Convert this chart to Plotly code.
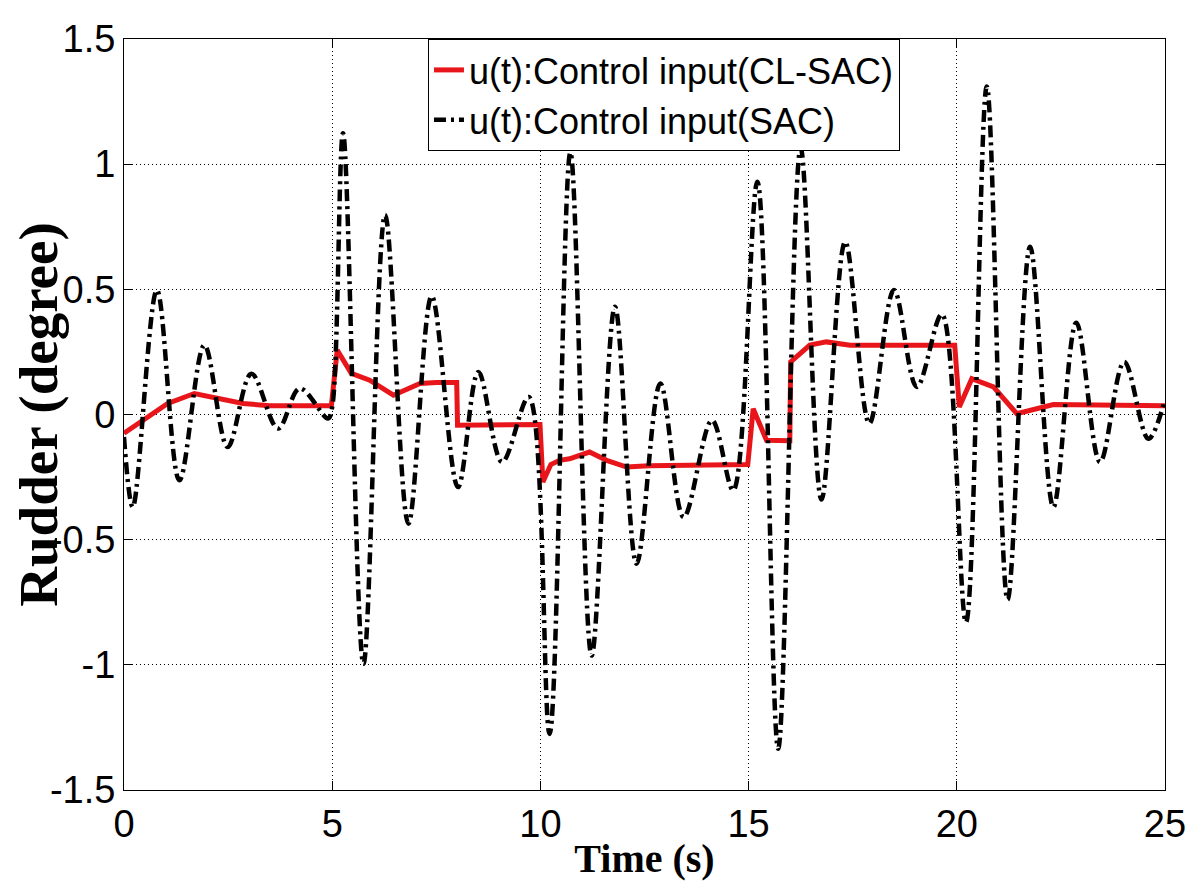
import plotly.graph_objects as go

# SAC control input (black dash-dot): peaks and troughs
t_sac = [0.0, 0.21, 0.79, 1.33, 1.93, 2.49, 3.06, 3.70, 4.22, 4.90, 5.0,
         5.26, 5.75, 6.27, 6.83, 7.39, 8.02, 8.51, 9.08, 9.72,
         10.22, 10.72, 11.23, 11.79, 12.31, 12.88, 13.44, 14.12, 14.63,
         15.21, 15.71, 16.25, 16.75, 17.32, 17.90, 18.49, 19.04, 19.64,
         20.22, 20.72, 21.22, 21.76, 22.32, 22.87, 23.44, 24.02, 24.60, 25.0]
u_sac = [-0.09, -0.37, 0.497, -0.263, 0.277, -0.13, 0.163, -0.056, 0.104, -0.016, 0.03,
         1.124, -0.996, 0.797, -0.436, 0.473, -0.29, 0.17, -0.19, 0.07,
         -1.276, 1.047, -0.963, 0.43, -0.596, 0.124, -0.41, -0.023, -0.303,
         0.93, -1.335, 1.064, -0.34, 0.69, -0.036, 0.497, 0.11, 0.40,
         -0.83, 1.31, -0.74, 0.67, -0.37, 0.367, -0.19, 0.21, -0.097, 0.06]

# CL-SAC control input (red solid)
t_cl = [0.0, 0.5, 1.05, 1.69, 2.3, 2.86, 3.5, 4.98, 5.12, 5.46, 5.9, 6.47, 7.11, 7.5, 7.99,
        8.01, 9.99, 10.06, 10.25, 10.46, 10.7, 11.18, 11.59, 12.07, 12.6, 14.98,
        15.11, 15.43, 15.99, 16.01, 16.47, 16.87, 17.44, 19.95, 20.06, 20.36, 20.88,
        21.44, 22.32, 25.0]
u_cl = [-0.075, -0.02, 0.044, 0.084, 0.065, 0.044, 0.035, 0.035, 0.257, 0.164, 0.137, 0.077, 0.124, 0.128, 0.128,
        -0.043, -0.04, -0.27, -0.2, -0.183, -0.177, -0.15, -0.183, -0.21, -0.205, -0.2,
        0.023, -0.103, -0.105, 0.21, 0.277, 0.29, 0.277, 0.277, 0.03, 0.143, 0.11,
        0.003, 0.04, 0.035]

y_ticks = [-1.5, -1, -0.5, 0, 0.5, 1, 1.5]
y_labels = ["-1.5", "-1", "-0.5", "0", "0.5", "1", "1.5"]
x_ticks = [0, 5, 10, 15, 20, 25]

fig = go.Figure()
fig.add_trace(go.Scatter(x=t_cl, y=u_cl, mode="lines", name="u(t):Control input(CL-SAC)",
                         line=dict(color="#e8161b", width=5)))
fig.add_trace(go.Scatter(x=t_sac, y=u_sac, mode="lines", name="u(t):Control input(SAC)",
                         line=dict(color="black", width=4.5, dash="12px,5px,3px,5px",
                                   shape="spline", smoothing=1)))

axis_common = dict(showline=True, linecolor="black", linewidth=1, mirror="allticks",
                   ticks="inside", ticklen=9, tickcolor="black", automargin=False,
                   showgrid=True, gridcolor="black", gridwidth=1, griddash="1px,3px",
                   zeroline=False,
                   tickfont=dict(family="Liberation Sans, Arial", size=38, color="black"))

fig.update_xaxes(range=[0, 25], tickvals=x_ticks,
                 title=dict(text="Time (s)", standoff=0,
                            font=dict(family="Liberation Serif, Times New Roman", size=40,
                                      color="black", weight="bold")),
                 **axis_common)
fig.update_yaxes(range=[-1.5, 1.5], tickvals=y_ticks, ticktext=y_labels,
                 title=dict(text="Rudder (degree)", standoff=8,
                            font=dict(family="Liberation Serif, Times New Roman", size=55,
                                      color="black", weight="bold")),
                 **axis_common)

# the page adds an 8px body margin, so the figure is 8px smaller than the window
fig.update_layout(
    width=1190, height=873,
    margin=dict(l=116, r=33, t=31, b=91),
    plot_bgcolor="white", paper_bgcolor="white",
    legend=dict(x=0.292, y=1, xanchor="left", yanchor="top",
                bgcolor="white", bordercolor="black", borderwidth=1,
                font=dict(family="Liberation Sans, Arial", size=36, color="black"),
                tracegroupgap=0, itemwidth=30),
)

fig.write_html("out.html")
